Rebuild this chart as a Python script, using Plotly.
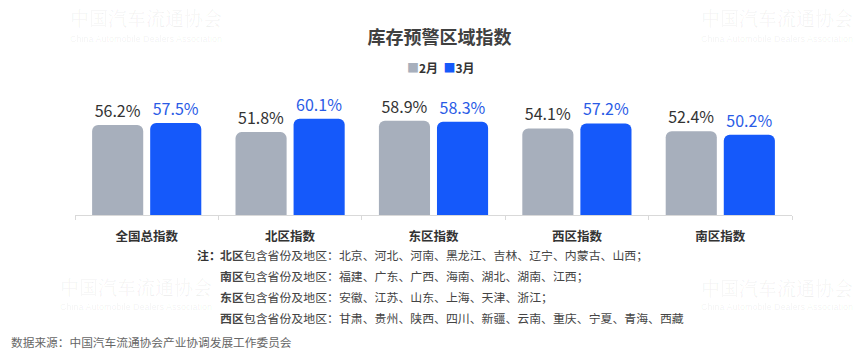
import plotly.graph_objects as go

categories = ["全国总指数", "北区指数", "东区指数", "西区指数", "南区指数"]
feb_values = [56.2, 51.8, 58.9, 54.1, 52.4]
mar_values = [57.5, 60.1, 58.3, 57.2, 50.2]
series_names = ["2月", "3月"]

title_text = "库存预警区域指数"
note_lines = [
    ("北区", "包含省份及地区：北京、河北、河南、黑龙江、吉林、辽宁、内蒙古、山西；"),
    ("南区", "包含省份及地区：福建、广东、广西、海南、湖北、湖南、江西；"),
    ("东区", "包含省份及地区：安徽、江苏、山东、上海、天津、浙江；"),
    ("西区", "包含省份及地区：甘肃、贵州、陕西、四川、新疆、云南、重庆、宁夏、青海、西藏"),
]
source_text = "数据来源：中国汽车流通协会产业协调发展工作委员会"

W, H = 865, 356
L, R, T, B = 75, 73, 103, 141
PW, PH = W - L - R, H - T - B

def px(x):
    return (x - L) / PW

def py(y):
    return (H - B - y) / PH

FONT = "Noto Sans CJK SC, Noto Sans, sans-serif"
GREY = "#A7AFBC"
BLUE = "#1559FA"
colors = [GREY, BLUE]
label_colors = ["#333333", "#2A5BE6"]

fig = go.Figure()
for name, vals, c, lc in zip(series_names, [feb_values, mar_values], colors, label_colors):
    fig.add_trace(go.Bar(
        x=categories, y=vals, name=name,
        marker=dict(color=c, line=dict(width=0)),
        text=[f"{v:.1f}%" for v in vals], textposition="outside",
        textfont=dict(size=16, color=lc, family=FONT),
        cliponaxis=False, showlegend=False, hoverinfo="skip",
    ))

annotations = []
# compact legend (as in the reference)
legend_text = "  ".join(
    f"<span style='color:{c}'>■</span><b>{n}</b>" for n, c in zip(series_names, colors))
annotations.append(dict(
    x=px(441), y=py(67), xref="paper", yref="paper", xanchor="center", yanchor="middle",
    text=legend_text, showarrow=False, font=dict(size=12, color="#333333", family=FONT)))

annotations.append(dict(
    x=px(195), y=py(254), xref="paper", yref="paper", xanchor="left", yanchor="middle",
    text="<b>注：</b>", showarrow=False, font=dict(size=11.9, color="#333333", family=FONT)))
ys = [254, 275, 296, 317]
for (b, rest), yy in zip(note_lines, ys):
    annotations.append(dict(
        x=px(218), y=py(yy), xref="paper", yref="paper", xanchor="left", yanchor="middle",
        text=f"<b>{b}</b>{rest}", showarrow=False,
        font=dict(size=11.9, color="#444444", family=FONT)))
annotations.append(dict(
    x=px(9), y=py(341), xref="paper", yref="paper", xanchor="left", yanchor="middle",
    text=source_text, showarrow=False, font=dict(size=11.7, color="#666666", family=FONT)))

# watermarks
wm_cn = "中国汽车流通协会"
wm_en = "China Automobile Dealers Association"
for (cx, cy_cn, cy_en) in [(146, 17, 39), (777, 17, 39), (136, 286, 307), (777, 287, 307)]:
    annotations.append(dict(
        x=px(cx), y=py(cy_cn), xref="paper", yref="paper", xanchor="center", yanchor="middle",
        text=wm_cn, showarrow=False,
        font=dict(size=19, color="rgba(0,0,0,0.06)", family="Noto Serif CJK SC, Noto Sans CJK SC, serif")))
    annotations.append(dict(
        x=px(cx), y=py(cy_en), xref="paper", yref="paper", xanchor="center", yanchor="middle",
        text=wm_en, showarrow=False,
        font=dict(size=9, color="rgba(0,0,0,0.06)", family="Liberation Sans, Arial, sans-serif")))

fig.update_layout(
    width=W, height=H,
    margin=dict(l=L, r=R, t=T, b=B, pad=0),
    paper_bgcolor="white", plot_bgcolor="white",
    font=dict(family=FONT, color="#333333"),
    title=dict(text=f"<b>{title_text}</b>", x=0.508, xanchor="center",
               y=1 - 38 / H, yanchor="middle", yref="container",
               font=dict(size=18, color="#404040", family=FONT)),
    showlegend=False,
    barmode="group", bargap=0.19, bargroupgap=0.12,
    barcornerradius=6,
    xaxis=dict(showgrid=False, showline=True, linecolor="#D9D9D9", linewidth=1,
               ticks="outside", ticklen=4, tickcolor="#D9D9D9", tickson="boundaries",
               ticklabelstandoff=10,
               tickfont=dict(size=12.5, color="#333333", family=FONT),
               tickvals=categories, ticktext=[f"<b>{c}</b>" for c in categories],
               fixedrange=True),
    yaxis=dict(range=[0, 70], visible=False, showgrid=False, zeroline=False, fixedrange=True),
    annotations=annotations,
)

fig.write_html("out.html", config={"displayModeBar": False, "staticPlot": True},
               post_script="document.body.style.margin='0';document.body.style.overflow='hidden';")
